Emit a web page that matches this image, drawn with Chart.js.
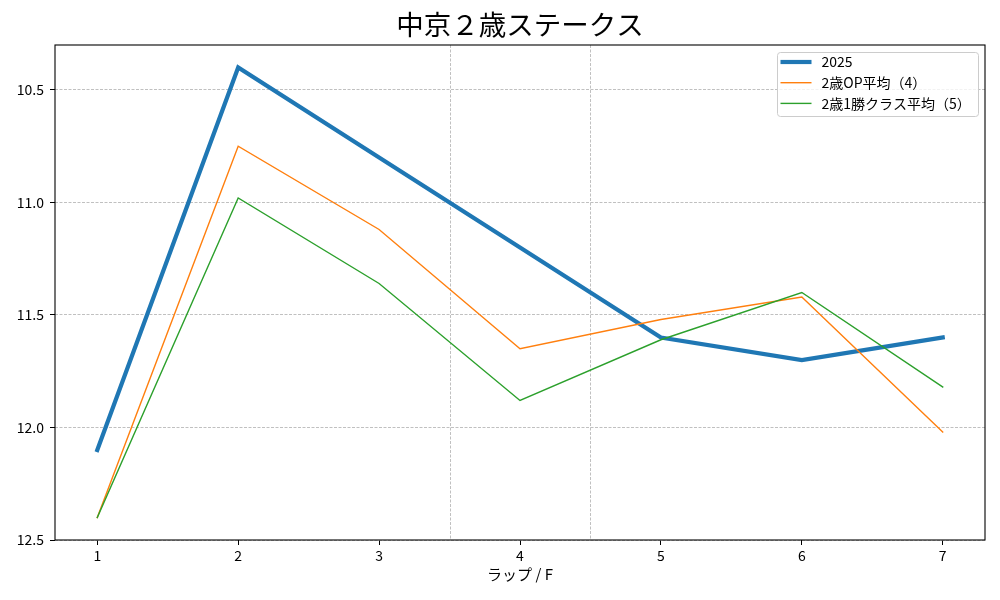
<!DOCTYPE html>
<html><head><meta charset="utf-8">
<script src="https://cdn.jsdelivr.net/npm/chart.js@4/dist/chart.umd.min.js"></script>
<style>html,body{margin:0;padding:0;background:#fff;}#wrap{width:1000px;height:600px;}</style>
</head><body><div id="wrap"><canvas id="c" width="1000" height="600"></canvas></div>
<script>
const titleText = '中京２歳ステークス';
const xAxisLabel = 'ラップ / F';
const laps = [1, 2, 3, 4, 5, 6, 7];
const seriesLabels = ['2025', '2歳OP平均（4）', '2歳1勝クラス平均（5）'];
const race2025 = [12.1, 10.4, 10.8, 11.2, 11.6, 11.7, 11.6];
const op2yoAvg = [12.4, 10.75, 11.12, 11.65, 11.52, 11.42, 12.02];
const win1ClassAvg = [12.4, 10.98, 11.36, 11.88, 11.61, 11.40, 11.82];
const yTicks = [10.5, 11.0, 11.5, 12.0, 12.5];
const dividers = [3.5, 4.5];

const FONT = "'Noto Sans CJK JP', 'DejaVu Sans', sans-serif";
const colors = ['#1f77b4', '#ff7f0e', '#2ca02c'];
const widths = [4.2, 1.4, 1.4];
const seriesValues = [race2025, op2yoAvg, win1ClassAvg];

const datasets = seriesValues.map((vals, i) => ({
  label: seriesLabels[i],
  data: laps.map((x, k) => ({x: x, y: vals[k]})),
  borderColor: colors[i],
  backgroundColor: colors[i],
  borderWidth: widths[i],
  pointRadius: 0,
  pointHoverRadius: 0,
  tension: 0,
  fill: false,
  borderJoinStyle: 'miter',
  borderCapStyle: 'square',
  order: 2 - i
}));

const framePlugin = {
  id: 'frame',
  beforeDatasetsDraw(chart) {
    const {ctx, chartArea: a, scales: {x}} = chart;
    ctx.save();
    ctx.strokeStyle = '#b0b0b0';
    ctx.lineWidth = 0.8;
    ctx.setLineDash([3, 1.5]);
    dividers.forEach(v => {
      const px = Math.round(x.getPixelForValue(v)) + 0.5;
      ctx.beginPath(); ctx.moveTo(px, a.top); ctx.lineTo(px, a.bottom); ctx.stroke();
    });
    ctx.restore();
  },
  afterDraw(chart) {
    const {ctx, chartArea: a} = chart;
    ctx.save();
    // title centred over the plot area
    ctx.fillStyle = '#000';
    ctx.font = '27.5px ' + FONT;
    ctx.textAlign = 'center';
    ctx.textBaseline = 'middle';
    ctx.fillText(titleText, (a.left + a.right) / 2, 25);
    // frame
    ctx.strokeStyle = '#000';
    ctx.lineWidth = 1.1;
    ctx.setLineDash([]);
    ctx.strokeRect(a.left, a.top, a.right - a.left, a.bottom - a.top);
    // legend
    const bw = 201, bh = 64;
    const bx = a.right - 207.5, by = a.top + 7.5;
    ctx.beginPath();
    if (ctx.roundRect) ctx.roundRect(bx, by, bw, bh, 3); else ctx.rect(bx, by, bw, bh);
    ctx.fillStyle = 'rgba(255,255,255,0.8)';
    ctx.fill();
    ctx.strokeStyle = '#cccccc';
    ctx.lineWidth = 1;
    ctx.stroke();
    ctx.font = '14px ' + FONT;
    ctx.textBaseline = 'middle';
    ctx.textAlign = 'left';
    chart.data.datasets.forEach((ds, i) => {
      const cy = by + 9.5 + i * 20.7;
      ctx.beginPath();
      ctx.strokeStyle = ds.borderColor;
      ctx.lineWidth = ds.borderWidth;
      ctx.lineCap = 'butt';
      ctx.moveTo(bx + 3, cy); ctx.lineTo(bx + 34, cy); ctx.stroke();
      ctx.fillStyle = '#000';
      ctx.fillText(ds.label, bx + 44, cy);
    });
    ctx.restore();
  }
};

new Chart(document.getElementById('c'), {
  type: 'line',
  data: {datasets: datasets},
  options: {
    responsive: false,
    animation: false,
    events: [],
    layout: {padding: {left: 0, right: 15, top: 45, bottom: 0}},
    plugins: {
      legend: {display: false},
      tooltip: {enabled: false},
      title: {display: false}
    },
    scales: {
      x: {
        type: 'linear',
        min: 0.7,
        max: 7.3,
        afterBuildTicks: s => { s.ticks = laps.map(v => ({value: v})); },
        afterFit: s => { s.height = 60; },
        ticks: {
          color: '#000',
          font: {family: FONT, size: 14},
          padding: 2,
          maxRotation: 0,
          callback: v => String(v)
        },
        grid: {display: true, drawOnChartArea: false, drawTicks: true, tickLength: 5, tickColor: '#000', tickWidth: 1},
        border: {display: false},
        title: {
          display: true,
          text: xAxisLabel,
          color: '#000',
          font: {family: FONT, size: 15, lineHeight: 1.2},
          padding: {top: 0, bottom: 17}
        }
      },
      y: {
        type: 'linear',
        reverse: true,
        min: 10.3,
        max: 12.5,
        afterBuildTicks: s => { s.ticks = yTicks.map(v => ({value: v})); },
        afterFit: s => { s.width = 55; },
        ticks: {
          color: '#000',
          font: {family: FONT, size: 14},
          padding: 6,
          callback: v => Number(v).toFixed(1)
        },
        grid: {
          display: true,
          drawOnChartArea: true,
          drawTicks: true,
          tickLength: 5,
          color: '#b0b0b0',
          lineWidth: 0.8,
          borderDash: [3, 1.5],
          tickColor: '#000',
          tickWidth: 1,
          tickBorderDash: []
        },
        border: {display: false, dash: [3, 1.5]}
      }
    }
  },
  plugins: [framePlugin]
});
</script>
</body></html>
